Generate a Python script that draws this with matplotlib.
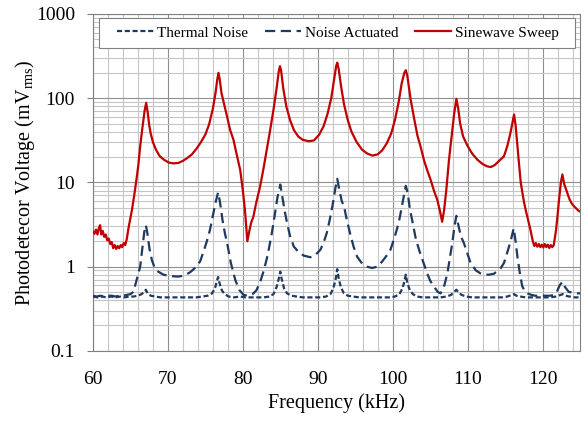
import matplotlib
matplotlib.use("Agg")
import matplotlib.pyplot as plt
from matplotlib.patches import Rectangle
from matplotlib.ticker import MultipleLocator, LogLocator, NullFormatter, FixedLocator, FixedFormatter

plt.rcParams['font.family'] = ['Liberation Serif', 'DejaVu Serif']
plt.rcParams['mathtext.fontset'] = 'custom'
plt.rcParams['mathtext.rm'] = 'Liberation Serif'
plt.rcParams['mathtext.it'] = 'Liberation Serif:italic'

# ---------------- data ----------------
sweep_f = [60.0, 60.2, 60.4, 60.6, 60.8, 60.95, 61.1, 61.3, 61.5, 61.7, 61.9, 62.1, 62.3, 62.5, 62.7,
           62.9, 63.1, 63.3, 63.5, 63.7, 63.9, 64.1, 64.3, 64.5, 64.75, 65.0, 65.2, 65.5, 65.8, 66.05,
           66.3, 66.6, 66.9, 67.1, 67.3, 67.5, 67.7, 68.0, 68.4, 68.9, 69.5, 70.1, 70.7, 71.4, 72.0,
           72.6, 73.2, 73.8, 74.4, 75.0, 75.5, 76.0, 76.35, 76.6, 76.75, 76.9, 77.15, 77.5, 77.9, 78.3,
           78.75, 79.2, 79.65, 80.0, 80.3, 80.6, 80.85, 81.1, 81.4, 81.8, 82.3, 82.75, 83.2, 83.65, 84.1,
           84.5, 84.8, 84.95, 85.1, 85.4, 85.8, 86.3, 86.8, 87.4, 88.0, 88.8, 89.5, 90.2, 90.8, 91.3,
           91.8, 92.2, 92.45, 92.6, 92.8, 93.1, 93.5, 94.0, 94.5, 95.2, 95.9, 96.6, 97.3, 98.0, 98.6,
           99.2, 99.8, 100.3, 100.8, 101.2, 101.55, 101.75, 101.95, 102.4, 102.9, 103.3, 103.7, 104.2, 104.6, 105.05,
           105.5, 105.95, 106.3, 106.6, 106.85, 107.15, 107.5, 107.9, 108.2, 108.5, 108.75, 109.0, 109.4, 110.0, 110.6,
           111.3, 112.0, 112.6, 113.1, 113.6, 114.2, 114.85, 115.3, 115.7, 116.0, 116.2, 116.4, 116.6, 116.85, 117.1,
           117.5, 117.75, 118.1, 118.4, 118.7, 118.9, 119.1, 119.3, 119.5, 119.7, 119.9, 120.1, 120.3, 120.5, 120.7,
           120.9, 121.1, 121.3, 121.5, 121.8, 122.0, 122.2, 122.45, 122.65, 122.9, 123.3, 123.6, 123.9, 124.2, 124.5,
           124.8, 125.0]
sweep_v = [2.6, 2.45, 2.75, 2.4, 2.9, 3.1, 2.4, 2.65, 2.25, 2.4, 2.05, 2.15, 1.85, 1.95, 1.65,
           1.8, 1.62, 1.75, 1.65, 1.8, 1.7, 1.9, 1.8, 2.1, 2.9, 3.8, 4.7, 7.0, 10.8, 16,
           27, 45, 72, 88, 68, 48, 38, 30, 24.5, 20.5, 18.5, 17.2, 16.8, 17.0, 18.0,
           19.5, 21.5, 25, 30, 37, 49, 75, 115, 170, 200, 170, 115, 85, 60, 42,
           32, 21, 14, 8, 4.5, 2.0, 2.6, 3.3, 3.9, 5.8, 8.9, 14.5, 24.5, 42, 74,
           130, 210, 240, 215, 130, 80, 55, 42, 35, 32, 30.8, 31.5, 37, 47, 65,
           100, 170, 240, 264, 220, 140, 85, 55, 40, 30, 24.5, 22, 20.8, 21.5, 24,
           29, 38, 55, 90, 150, 200, 215, 185, 96, 55, 36, 27, 18, 14, 10.8,
           8, 6.2, 4.6, 3.4, 4.6, 8, 18, 38, 65, 98, 75, 50, 35, 27, 22,
           18.6, 16.5, 15.5, 15.2, 16, 18, 20.4, 27, 38, 52, 64, 48, 30, 17, 9.8,
           6.0, 4.7, 3.5, 2.7, 2.0, 1.75, 1.9, 1.72, 1.85, 1.7, 1.82, 1.68, 1.85, 1.7, 1.82,
           1.66, 1.8, 1.7, 1.8, 2.7, 4.0, 6.2, 10, 12.4, 9.5, 7.5, 6.3, 5.6, 5.2, 4.9,
           4.6, 4.5]

act_f = [60.0, 60.5, 61.0, 61.5, 62.0, 62.5, 63.0, 63.5, 64.0, 64.5, 65.0, 65.4, 65.8, 66.3, 66.6,
         66.85, 67.05, 67.25, 67.55, 67.85, 68.2, 68.7, 69.4, 70.3, 71.4, 72.2, 73.0, 73.7, 74.3, 74.8,
         75.2, 75.6, 76.0, 76.4, 76.7, 76.95, 77.3, 77.6, 77.9, 78.4, 79.0, 79.5, 80.1, 80.7, 81.3,
         81.8, 82.3, 82.8, 83.3, 83.8, 84.2, 84.6, 85.0, 85.3, 85.6, 85.9, 86.3, 86.8, 87.4, 88.1,
         89.0, 89.7, 90.35, 90.8, 91.2, 91.6, 92.0, 92.35, 92.6, 92.9, 93.2, 93.5, 93.9, 94.4, 94.8,
         95.25, 95.8, 96.5, 97.25, 98.0, 98.6, 99.2, 99.7, 100.3, 100.8, 101.2, 101.5, 101.75, 102.0, 102.3,
         102.7, 103.1, 103.6, 104.2, 104.6, 105.0, 105.5, 106.0, 106.4, 106.9, 107.3, 107.65, 107.95, 108.25, 108.5,
         108.8, 109.1, 109.5, 110.4, 111.1, 111.7, 112.3, 112.85, 113.5, 114.4, 114.85, 115.4, 115.8, 116.15, 116.4,
         116.65, 117.0, 117.3, 117.7, 118.0, 118.5, 119.0, 119.5, 120.0, 120.5, 121.0, 121.5, 121.9, 122.3, 122.65,
         123.0, 123.5, 124.0, 124.5, 125.0]
act_v = [0.45, 0.44, 0.45, 0.44, 0.45, 0.45, 0.44, 0.45, 0.45, 0.46, 0.47, 0.5, 0.68, 1.0, 1.7,
         2.6, 3.1, 2.5, 1.6, 1.2, 0.98, 0.87, 0.8, 0.77, 0.76, 0.78, 0.86, 0.98, 1.15, 1.55,
         2.0, 2.7, 4.0, 6.0, 7.6, 5.8, 3.5, 2.5, 1.9, 1.1, 0.69, 0.53, 0.46, 0.45, 0.47,
         0.52, 0.65, 0.9, 1.35, 2.3, 3.8, 6.5, 9.4, 6.5, 4.5, 3.3, 2.3, 1.73, 1.5, 1.35,
         1.29, 1.38, 1.58, 1.95, 2.5, 3.6, 5.5, 8.5, 11, 8.0, 6.0, 5.2, 3.5, 2.3, 1.7,
         1.31, 1.12, 1.0, 0.96, 1.0, 1.15, 1.35, 1.58, 2.3, 3.3, 5.0, 7.0, 9.1, 7.5, 4.8,
         3.2, 2.1, 1.5, 1.05, 0.83, 0.68, 0.58, 0.5, 0.48, 0.6, 0.83, 1.3, 1.9, 3.0, 4.0,
         3.0, 2.3, 1.9, 1.1, 0.9, 0.83, 0.8, 0.8, 0.82, 0.95, 1.1, 1.58, 2.1, 2.85, 2.0,
         1.31, 0.8, 0.58, 0.5, 0.48, 0.46, 0.45, 0.45, 0.45, 0.45, 0.45, 0.46, 0.5, 0.6, 0.66,
         0.57, 0.5, 0.49, 0.48, 0.48]

therm_f = [60.0, 60.6, 61.2, 61.8, 62.4, 63.0, 63.6, 64.2, 64.8, 65.4, 66.0, 66.5, 66.85, 67.05, 67.3,
           67.7, 68.3, 69.0, 69.8, 70.6, 71.4, 72.2, 73.0, 73.8, 74.6, 75.3, 75.9, 76.3, 76.55, 76.7,
           76.9, 77.2, 77.6, 78.1, 78.8, 79.6, 80.4, 81.2, 82.0, 82.8, 83.5, 84.1, 84.5, 84.8, 85.0,
           85.2, 85.5, 85.9, 86.5, 87.2, 88.0, 88.8, 89.6, 90.4, 91.1, 91.7, 92.1, 92.4, 92.6, 92.8,
           93.1, 93.5, 94.0, 94.7, 95.5, 96.3, 97.1, 97.9, 98.7, 99.5, 100.3, 100.9, 101.3, 101.55, 101.75,
           101.95, 102.3, 102.7, 103.2, 104.0, 104.8, 105.6, 106.4, 107.2, 107.8, 108.2, 108.5, 108.8, 109.2, 109.8,
           110.6, 111.4, 112.2, 113.0, 113.8, 114.6, 115.3, 115.9, 116.2, 116.5, 117.0, 117.8, 118.6, 119.4, 120.2,
           121.0, 121.8, 122.4, 122.7, 123.0, 123.6, 124.3, 125.0]
therm_v = [0.44, 0.43, 0.44, 0.43, 0.44, 0.43, 0.44, 0.43, 0.44, 0.44, 0.45, 0.47, 0.5, 0.53, 0.48,
           0.45, 0.44, 0.43, 0.43, 0.43, 0.43, 0.43, 0.43, 0.43, 0.44, 0.45, 0.48, 0.56, 0.68, 0.75,
           0.63, 0.52, 0.47, 0.44, 0.43, 0.44, 0.43, 0.43, 0.43, 0.43, 0.44, 0.47, 0.57, 0.72, 0.87,
           0.7, 0.55, 0.48, 0.45, 0.44, 0.43, 0.43, 0.43, 0.43, 0.44, 0.47, 0.56, 0.72, 0.93, 0.72,
           0.56, 0.48, 0.45, 0.44, 0.43, 0.43, 0.43, 0.43, 0.43, 0.43, 0.44, 0.47, 0.55, 0.66, 0.8,
           0.64, 0.52, 0.47, 0.44, 0.43, 0.43, 0.43, 0.43, 0.44, 0.46, 0.5, 0.53, 0.49, 0.46, 0.44,
           0.43, 0.43, 0.43, 0.43, 0.43, 0.43, 0.44, 0.46, 0.47, 0.45, 0.44, 0.43, 0.43, 0.43, 0.43,
           0.43, 0.44, 0.46, 0.47, 0.45, 0.44, 0.43, 0.43]

x_ticks = [60, 70, 80, 90, 100, 110, 120]
y_ticks = [0.1, 1, 10, 100, 1000]
y_tick_labels = ["0.1", "1", "10", "100", "1000"]
series_names = ["Thermal Noise", "Noise Actuated", "Sinewave Sweep"]

# ---------------- figure ----------------
fig = plt.figure(figsize=(5.88, 4.21), dpi=100)
ax = fig.add_axes([93 / 588, 1 - 350.7 / 421, 487 / 588, 336.7 / 421])

navy = '#1F3A5F'
red = '#C00000'

ax.plot(therm_f, therm_v, color=navy, lw=1.6, dashes=(2.3, 1.2), label=series_names[0], zorder=3)
ax.plot(act_f, act_v, color=navy, lw=1.6, dashes=(4.6, 2.5), label=series_names[1], zorder=3)
ax.plot(sweep_f, sweep_v, color=red, lw=1.6, label=series_names[2], zorder=4)

ax.set_yscale('log')
ax.set_xlim(60, 125)
ax.set_ylim(0.1, 1000)

ax.xaxis.set_major_locator(FixedLocator(x_ticks))
ax.xaxis.set_minor_locator(MultipleLocator(2))
ax.yaxis.set_major_locator(FixedLocator(y_ticks))
ax.yaxis.set_major_formatter(FixedFormatter(y_tick_labels))
ax.yaxis.set_minor_locator(LogLocator(base=10, subs=[2, 3, 4, 5, 6, 7, 8, 9], numticks=20))
ax.yaxis.set_minor_formatter(NullFormatter())

ax.set_axisbelow(True)
ax.grid(which='major', color='#8f8f8f', lw=0.8)
ax.grid(which='minor', color='#c6c6c6', lw=0.8)

ax.tick_params(axis='x', which='both', length=0, pad=14.5, labelsize=14)
ax.tick_params(axis='y', which='major', length=4, width=0.8, color='#808080', pad=9, labelsize=14)
ax.tick_params(axis='y', which='minor', length=0)

for sp in ax.spines.values():
    sp.set_color('#808080')
    sp.set_linewidth(0.8)

ax.set_xlabel('Frequency (kHz)', fontsize=14.5, labelpad=4)
ax.set_ylabel(r'Photodetecor Voltage (mV$_{\mathrm{rms}}$)', fontsize=14.5, labelpad=-1)

# legend frame (white box) and legend entries
ax.add_patch(Rectangle((0.0123, 0.900), 0.9774, 0.089, transform=ax.transAxes,
                       facecolor='white', edgecolor='#808080', lw=0.8, zorder=5, clip_on=False))
leg = ax.legend(loc='center left', bbox_to_anchor=(0.0493, 0.9436), ncol=3, fontsize=11,
                frameon=False, borderpad=0, borderaxespad=0,
                handlelength=2.4, handletextpad=0.25, columnspacing=1.05)
leg.set_zorder(6)

fig.savefig('out.png', dpi=100)
